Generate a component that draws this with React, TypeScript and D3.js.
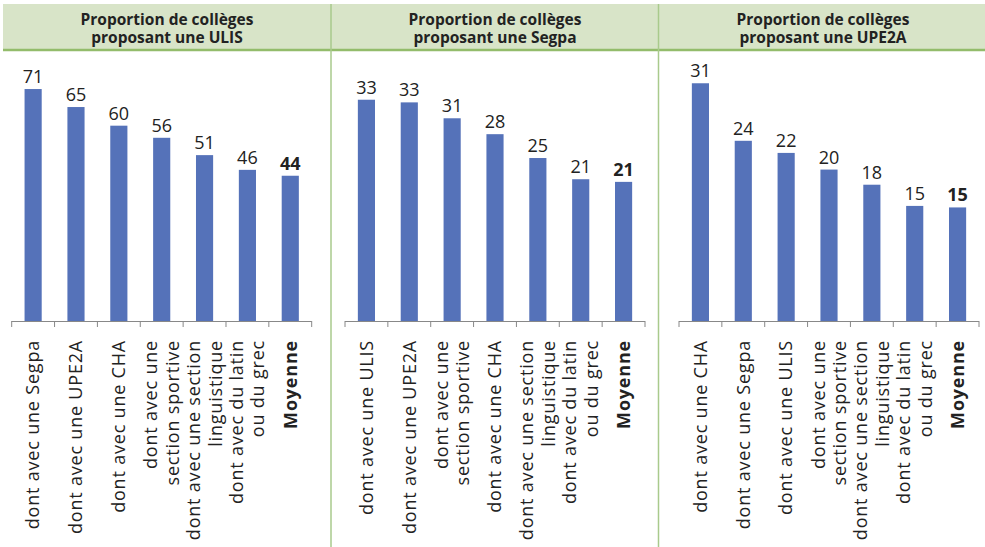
import React from "react";
import * as d3 from "d3";

const titlesULIS = ["Proportion de collèges", "proposant une ULIS"];
const titlesSegpa = ["Proportion de collèges", "proposant une Segpa"];
const titlesUPE2A = ["Proportion de collèges", "proposant une UPE2A"];

const categoriesULIS = [
  "dont avec une Segpa",
  "dont avec une UPE2A",
  "dont avec une CHA",
  "dont avec une|section sportive",
  "dont avec une section|linguistique",
  "dont avec du latin|ou du grec",
  "Moyenne",
];
const valuesULIS = [70.9, 65.4, 59.7, 56.0, 50.7, 46.2, 44.4];

const categoriesSegpa = [
  "dont avec une ULIS",
  "dont avec une UPE2A",
  "dont avec une|section sportive",
  "dont avec une CHA",
  "dont avec une section|linguistique",
  "dont avec du latin|ou du grec",
  "Moyenne",
];
const valuesSegpa = [33.4, 33.0, 30.6, 28.2, 24.6, 21.4, 21.0];

const categoriesUPE2A = [
  "dont avec une CHA",
  "dont avec une Segpa",
  "dont avec une ULIS",
  "dont avec une|section sportive",
  "dont avec une section|linguistique",
  "dont avec du latin|ou du grec",
  "Moyenne",
];
const valuesUPE2A = [31.4, 23.8, 22.2, 20.0, 18.0, 15.2, 15.0];

const yMaxes = [81, 40, 35];

const W = 985;
const H = 547;
const BAR = "#5572b9";
const FONT = "'Open Sans', sans-serif";

const panels = [
  { titles: titlesULIS, cats: categoriesULIS, vals: valuesULIS, yMax: yMaxes[0], x0: 11.7, cx: 167 },
  { titles: titlesSegpa, cats: categoriesSegpa, vals: valuesSegpa, yMax: yMaxes[1], x0: 345, cx: 495 },
  { titles: titlesUPE2A, cats: categoriesUPE2A, vals: valuesUPE2A, yMax: yMaxes[2], x0: 679, cx: 823 },
];

const baseY = 321;
const topY = 56;
const axisLen = 300;

function Panel({ p }: { p: (typeof panels)[number] }) {
  const x = d3
    .scaleBand<string>()
    .domain(p.cats)
    .range([p.x0, p.x0 + axisLen])
    .paddingInner(0.6)
    .paddingOuter(0.3);
  const y = d3.scaleLinear().domain([0, p.yMax]).range([baseY, topY]);
  const step = x.step();
  const edges = p.cats.map((c) => (x(c) as number) - (step - x.bandwidth()) / 2);
  edges.push(p.x0 + axisLen);
  const fmt = d3.format(".0f");
  return (
    <g>
      {p.cats.map((c, i) => (
        <rect
          key={c}
          x={x(c)}
          y={y(p.vals[i])}
          width={x.bandwidth()}
          height={baseY - y(p.vals[i])}
          fill={BAR}
        />
      ))}
      {p.cats.map((c, i) => (
        <text
          key={"v" + c}
          x={(x(c) as number) + x.bandwidth() / 2}
          y={y(p.vals[i]) - 6}
          textAnchor="middle"
          fontFamily={FONT}
          fontSize={18}
          fontWeight={c === "Moyenne" ? 700 : 400}
          fill="#222"
        >
          {fmt(p.vals[i])}
        </text>
      ))}
      <line x1={p.x0} x2={p.x0 + axisLen} y1={baseY + 0.5} y2={baseY + 0.5} stroke="#888" strokeWidth={1} />
      {edges.map((e, i) => (
        <line key={"t" + i} x1={e} x2={e} y1={baseY} y2={baseY + 6} stroke="#888" strokeWidth={1} />
      ))}
      {p.cats.map((c) => {
        const lines = c.split("|");
        const cx = (x(c) as number) + x.bandwidth() / 2;
        return (
          <text
            key={"l" + c}
            transform={`translate(${cx},340) rotate(-90)`}
            textAnchor="end"
            fontFamily={FONT}
            fontSize={18}
            letterSpacing={0.8}
            fontWeight={c === "Moyenne" ? 700 : 400}
            fill="#222"
          >
            {lines.map((l, i) => (
              <tspan key={i} x={0} y={(i - (lines.length - 1) / 2) * 21.4} dy="0.35em">
                {l}
              </tspan>
            ))}
          </text>
        );
      })}
      <text textAnchor="middle" fontFamily={FONT} fontSize={15.5} fontWeight={700} fill="#222">
        <tspan x={p.cx} y={25}>
          {p.titles[0]}
        </tspan>
        <tspan x={p.cx} y={42.5}>
          {p.titles[1]}
        </tspan>
      </text>
    </g>
  );
}

export default function App() {
  return (
    <div style={{ position: "absolute", left: 0, top: 0 }}>
      <svg width={W} height={H} style={{ display: "block", background: "#fff" }}>
        <rect x={3} y={4} width={W - 3} height={45} fill="#d8e4c8" />
        <line x1={3} x2={W} y1={50} y2={50} stroke="#93bc6b" strokeWidth={2.5} />
        <line x1={331} x2={331} y1={4} y2={H} stroke="#a9ca8c" strokeWidth={1.5} />
        <line x1={658.5} x2={658.5} y1={4} y2={H} stroke="#a9ca8c" strokeWidth={1.5} />
        {panels.map((p, i) => (
          <Panel key={i} p={p} />
        ))}
      </svg>
    </div>
  );
}
